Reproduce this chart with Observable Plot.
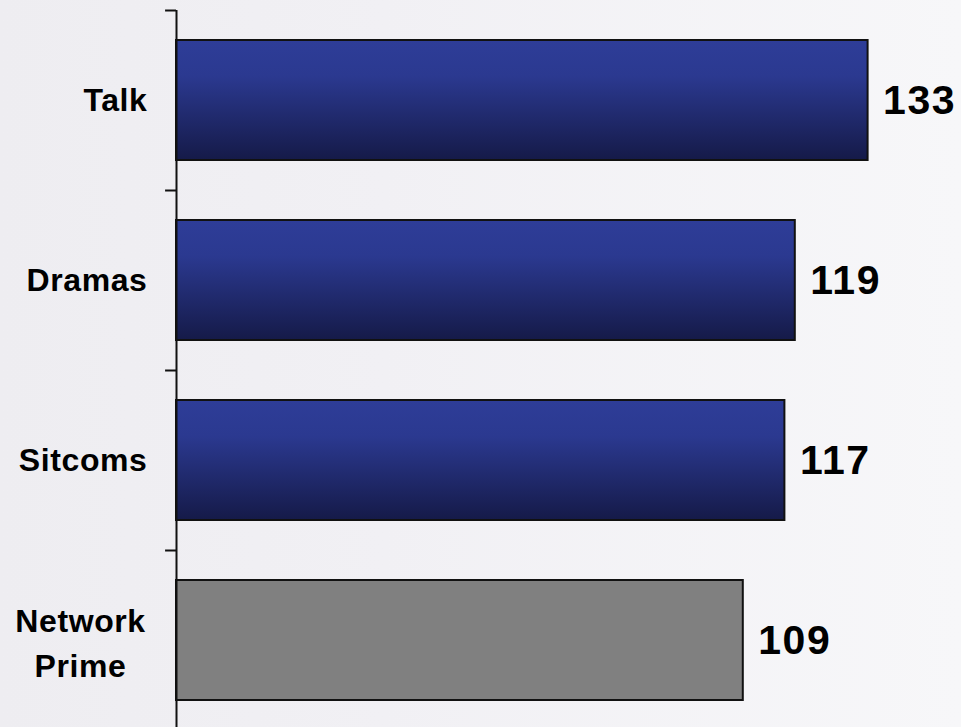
<!DOCTYPE html>
<html>
<head>
<meta charset="utf-8">
<script src="https://cdn.jsdelivr.net/npm/d3@7"></script>
<script src="https://cdn.jsdelivr.net/npm/@observablehq/plot@0.6"></script>
<style>
  html, body { margin: 0; padding: 0; }
  body {
    width: 961px; height: 727px; overflow: hidden;
    background: linear-gradient(90deg, #eeedf1 0%, #f1f0f4 40%, #f7f7f9 100%);
  }
  #chart svg { display: block; }
  #chart .vals text { letter-spacing: 1.5px; }
  #chart .labs text { letter-spacing: 0.6px; }
</style>
</head>
<body>
<div id="chart"></div>
<script>
const categories = ["Talk", "Dramas", "Sitcoms", "Network Prime"];
const values = [133, 119, 117, 109];
const groups = ["genre", "genre", "genre", "benchmark"];
const labels = ["Talk", "Dramas", "Sitcoms", "Network\nPrime"];

const data = categories.map((c, i) => ({cat: c, value: values[i], group: groups[i], label: labels[i]}));
const font = "'Liberation Sans', Arial, sans-serif";

const chart = Plot.plot({
  width: 961,
  height: 727,
  marginLeft: 176,
  marginRight: 5,
  marginTop: 10,
  marginBottom: -3,
  style: {background: "transparent"},
  x: {domain: [0, 150], axis: null},
  y: {domain: categories, padding: 0, axis: null},
  color: {domain: ["genre", "benchmark"], range: ["url(#barGrad)", "#808080"]},
  marks: [
    Plot.barX(data, {x: "value", y: "cat", fill: "group", stroke: "#111", strokeWidth: 2, insetTop: 30, insetBottom: 30}),
    Plot.ruleX([0], {stroke: "#111", strokeWidth: 2}),
    Plot.ruleY(categories, {y: d => d, x1: -2.1, x2: 0, dy: -90, stroke: "#111", strokeWidth: 2}),
    Plot.text(data.filter(d => !d.label.includes("\n")), {x: 0, y: "cat", text: "label", textAnchor: "end", dx: -29, fontSize: 32, fontWeight: "bold", fontFamily: font, fill: "#000", className: "labs"}),
    Plot.text(data.filter(d => d.label.includes("\n")), {x: 0, y: "cat", text: "label", textAnchor: "middle", dx: -96, lineHeight: 1.4, fontSize: 32, fontWeight: "bold", fontFamily: font, fill: "#000", className: "labs"}),
    Plot.text(data, {x: "value", y: "cat", text: d => String(d.value), textAnchor: "start", dx: 15, fontSize: 41, fontWeight: "bold", fontFamily: font, fill: "#000", className: "vals"})
  ]
});

const svg = d3.select(chart);
const defs = svg.insert("defs", ":first-child");
const g = defs.append("linearGradient").attr("id", "barGrad").attr("x1", 0).attr("y1", 0).attr("x2", 0).attr("y2", 1);
g.append("stop").attr("offset", "0%").attr("stop-color", "#2e3d98");
g.append("stop").attr("offset", "30%").attr("stop-color", "#2b3990");
g.append("stop").attr("offset", "100%").attr("stop-color", "#151a48");

document.getElementById("chart").appendChild(chart);
</script>
</body>
</html>
